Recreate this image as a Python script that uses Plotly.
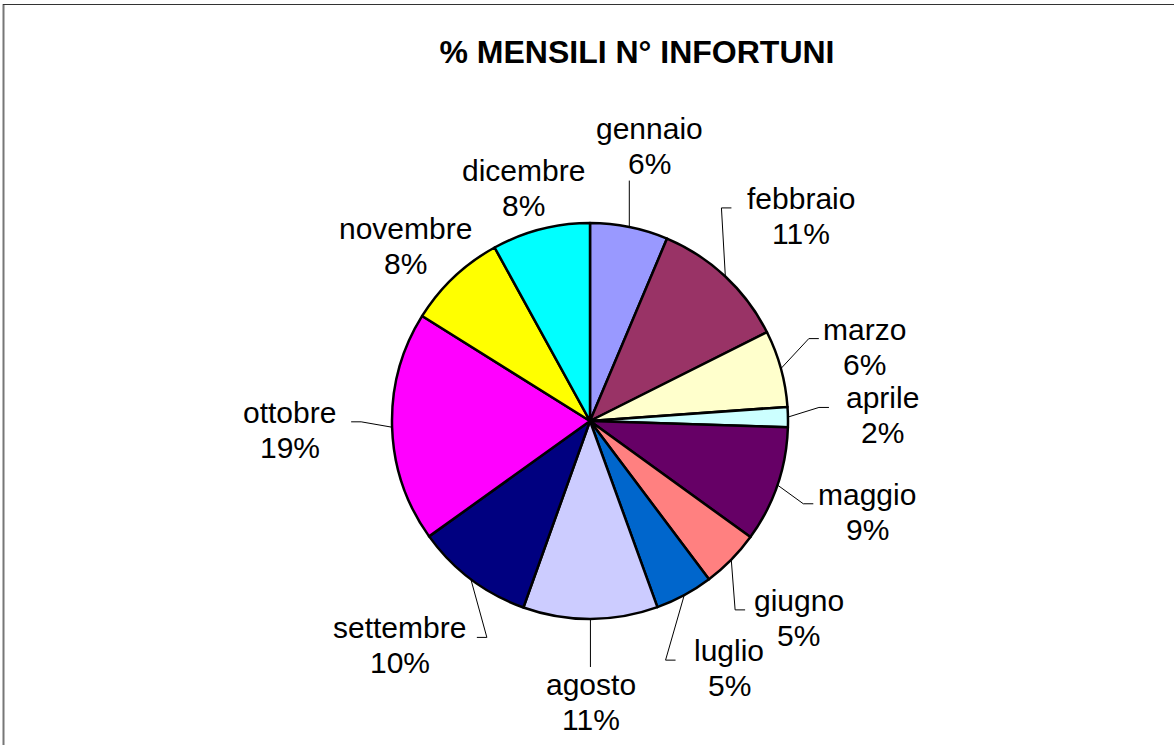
import math
import plotly.graph_objects as go

# data (percent of yearly accidents per month)
months = ["gennaio", "febbraio", "marzo", "aprile", "maggio", "giugno",
          "luglio", "agosto", "settembre", "ottobre", "novembre", "dicembre"]
shares = [6.36, 11.24, 6.27, 1.63, 9.47, 4.77, 4.73, 10.99, 9.64, 18.8, 8.1, 8.0]
colors = ["#9999FF", "#993366", "#FFFFCC", "#CCFFFF", "#660066", "#FF8080",
          "#0066CC", "#CCCCFF", "#000080", "#FF00FF", "#FFFF00", "#00FFFF"]
leader = [True] * 10 + [False, False]

W, H = 1174, 745
cx, cy, r = 590, 421, 198
FONT = "Liberation Sans, Arial, sans-serif"
fs = 30
line_gap = 35


def px(x):
    return x / W


def py(y):
    return 1 - y / H


fig = go.Figure(
    go.Pie(
        labels=months,
        values=shares,
        sort=False,
        direction="clockwise",
        rotation=0,
        textinfo="none",
        hoverinfo="label+percent",
        marker=dict(colors=colors, line=dict(color="black", width=2.5)),
        domain=dict(x=[px(cx - r), px(cx + r)], y=[py(cy + r), py(cy - r)]),
        showlegend=False,
    )
)

total = sum(shares)
cum = 0
annotations = []
shapes = []
for name, v, show in zip(months, shares, leader):
    theta = 2 * math.pi * (cum + v / 2) / total
    cum += v
    s, c = math.sin(theta), -math.cos(theta)
    pct = round(v / total * 100)
    w = len(name) * 0.52 * fs
    h = 2 * line_gap
    # label box pushed out; labels with a leader line sit further away
    gap = 48 if show else 8
    ax, ay = cx + (r + gap) * s, cy + (r + gap) * c
    lx, ly = ax + s * w / 2, ay + c * h / 2
    for txt, yy in ((name, ly - line_gap / 2), (f"{pct}%", ly + line_gap / 2)):
        annotations.append(dict(
            x=px(lx), y=py(yy), xref="paper", yref="paper",
            text=txt, showarrow=False,
            xanchor="center", yanchor="middle", align="center",
            font=dict(family=FONT, size=fs, color="black"),
        ))
    if not show:
        continue
    ex, ey = cx + r * s, cy + r * c
    if abs(s) > 0.35:
        side = 1 if s > 0 else -1
        tx = lx - side * w / 2
        ty = ly - 8
        path = (f"M {px(ex)} {py(ey)} L {px(tx - side * 17)} {py(ty)} "
                f"L {px(tx - side * 7)} {py(ty)}")
    else:
        tx = min(max(ex, lx - w / 2), lx + w / 2)
        ty = ly + h / 2 if c < 0 else ly - h / 2
        path = f"M {px(ex)} {py(ey)} L {px(tx)} {py(ty)}"
    shapes.append(dict(type="path", path=path, xref="paper", yref="paper",
                       line=dict(color="black", width=1)))

# chart area border (only left and top edges show in the picture)
shapes.append(dict(type="line", xref="paper", yref="paper",
                   x0=px(3.5), x1=px(3.5), y0=0, y1=py(4),
                   line=dict(color="#777777", width=2)))
shapes.append(dict(type="line", xref="paper", yref="paper",
                   x0=px(3), x1=1, y0=py(4.5), y1=py(4.5),
                   line=dict(color="#333333", width=1)))

fig.update_layout(
    width=W,
    height=H,
    margin=dict(l=0, r=0, t=0, b=0),
    paper_bgcolor="white",
    plot_bgcolor="white",
    title=dict(
        text="<b>% MENSILI N° INFORTUNI</b>",
        x=px(637), y=py(52), xanchor="center", yanchor="middle",
        xref="paper", yref="paper",
        font=dict(family=FONT, size=32, color="black"),
    ),
    annotations=annotations,
    shapes=shapes,
)

# drop the default 8px body margin so the figure starts at the window corner
fig.write_html("out.html", config={"displayModeBar": False},
               post_script="document.body.style.margin='0px';")
